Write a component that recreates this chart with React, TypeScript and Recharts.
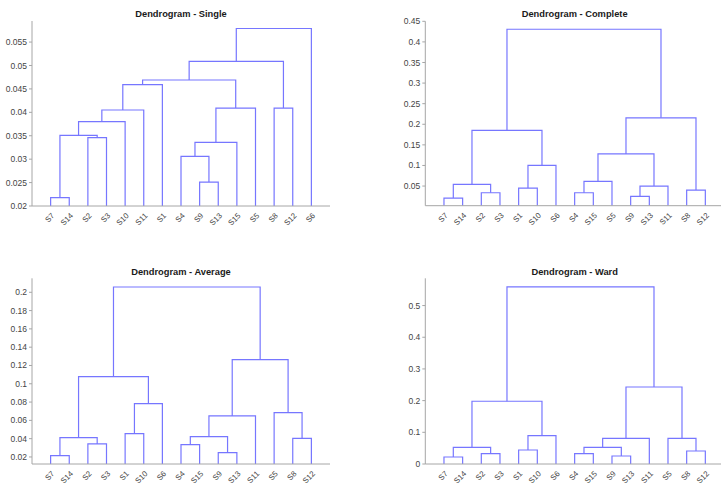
import { LineChart, Line, XAxis, YAxis } from 'recharts';

type Node = string | number;
type Link = [Node, Node, number];

// leaf positions on the x axis (1..15)
const leafTicks = [1, 2, 3, 4, 5, 6, 7, 8, 9, 10, 11, 12, 13, 14, 15];

// Single linkage
const singleLeaves = ['S7', 'S14', 'S2', 'S3', 'S10', 'S11', 'S1', 'S4', 'S9', 'S13', 'S15', 'S5', 'S8', 'S12', 'S6'];
const singleLinks: Link[] = [
  ['S7', 'S14', 0.0218],
  ['S2', 'S3', 0.0346],
  [0, 1, 0.0351],
  [2, 'S10', 0.038],
  [3, 'S11', 0.0405],
  [4, 'S1', 0.0459],
  ['S9', 'S13', 0.0251],
  ['S4', 6, 0.0306],
  [7, 'S15', 0.0336],
  [8, 'S5', 0.0409],
  [5, 9, 0.0469],
  ['S8', 'S12', 0.0409],
  [10, 11, 0.0509],
  [12, 'S6', 0.0579],
];
const singleTicks = [0.02, 0.025, 0.03, 0.035, 0.04, 0.045, 0.05, 0.055];

// Complete linkage
const completeLeaves = ['S7', 'S14', 'S2', 'S3', 'S1', 'S10', 'S6', 'S4', 'S15', 'S5', 'S9', 'S13', 'S11', 'S8', 'S12'];
const completeLinks: Link[] = [
  ['S7', 'S14', 0.0209],
  ['S2', 'S3', 0.0338],
  [0, 1, 0.054],
  ['S1', 'S10', 0.0452],
  [3, 'S6', 0.1001],
  [2, 4, 0.185],
  ['S4', 'S15', 0.0338],
  [6, 'S5', 0.0613],
  ['S9', 'S13', 0.025],
  [8, 'S11', 0.05],
  [7, 9, 0.128],
  ['S8', 'S12', 0.0403],
  [10, 11, 0.2157],
  [5, 12, 0.4307],
];
const completeTicks = [0.05, 0.1, 0.15, 0.2, 0.25, 0.3, 0.35, 0.4, 0.45];

// Average linkage
const averageLeaves = ['S7', 'S14', 'S2', 'S3', 'S1', 'S10', 'S6', 'S4', 'S15', 'S9', 'S13', 'S11', 'S5', 'S8', 'S12'];
const averageLinks: Link[] = [
  ['S7', 'S14', 0.0215],
  ['S2', 'S3', 0.0342],
  [0, 1, 0.0411],
  ['S1', 'S10', 0.0455],
  [3, 'S6', 0.0783],
  [2, 4, 0.1078],
  ['S4', 'S15', 0.0335],
  ['S9', 'S13', 0.0247],
  [6, 7, 0.0422],
  [8, 'S11', 0.0648],
  ['S8', 'S12', 0.0404],
  ['S5', 10, 0.0685],
  [9, 11, 0.1264],
  [5, 12, 0.2058],
];
const averageTicks = [0.02, 0.04, 0.06, 0.08, 0.1, 0.12, 0.14, 0.16, 0.18, 0.2];

// Ward linkage
const wardLeaves = ['S7', 'S14', 'S2', 'S3', 'S1', 'S10', 'S6', 'S4', 'S15', 'S9', 'S13', 'S11', 'S5', 'S8', 'S12'];
const wardLinks: Link[] = [
  ['S7', 'S14', 0.0221],
  ['S2', 'S3', 0.0326],
  [0, 1, 0.0526],
  ['S1', 'S10', 0.0442],
  [3, 'S6', 0.0895],
  [2, 4, 0.198],
  ['S4', 'S15', 0.0326],
  ['S9', 'S13', 0.0253],
  [6, 7, 0.0526],
  [8, 'S11', 0.081],
  ['S8', 'S12', 0.041],
  ['S5', 10, 0.081],
  [9, 11, 0.243],
  [5, 12, 0.559],
];
const wardTicks = [0, 0.1, 0.2, 0.3, 0.4, 0.5];

const LINK_COLOR = '#7676ff';
const AXIS_COLOR = '#a6a6a6';
const TEXT_COLOR = '#444';

// turn merges into U-shaped segments, leaves start at the axis floor
function buildSegments(leaves: string[], links: Link[], floor: number) {
  const pos: { x: number; y: number }[] = [];
  const at = (n: Node) =>
    typeof n === 'number' ? pos[n] : { x: leaves.indexOf(n) + 1, y: floor };
  return links.map(([a, b, h], i) => {
    const l = at(a);
    const r = at(b);
    pos[i] = { x: (l.x + r.x) / 2, y: h };
    return [
      { x: l.x, y: l.y },
      { x: l.x, y: h },
      { x: r.x, y: h },
      { x: r.x, y: r.y },
    ];
  });
}

interface PanelProps {
  title: string;
  leaves: string[];
  links: Link[];
  domain: [number, number];
  ticks: number[];
  left: number;
  top: number;
  width: number;
  height: number;
  titleY: number;
  plotLeft: number;
  plotTop: number;
  plotRight: number;
  plotBottom: number;
}

function Dendrogram({
  title, leaves, links, domain, ticks, left, top, width, height, titleY,
  plotLeft, plotTop, plotRight, plotBottom,
}: PanelProps) {
  const segments = buildSegments(leaves, links, domain[0]);
  const xAxisHeight = 20;
  const margin = {
    top: plotTop,
    left: 0,
    right: width - plotRight,
    bottom: height - plotBottom - xAxisHeight,
  };

  const LeafTick = (props: any) => {
    const { x, y, payload } = props;
    const tx = x + 2.5;
    const ty = y + 2.5;
    return (
      <text
        x={tx}
        y={ty}
        transform={`rotate(-45 ${tx} ${ty})`}
        textAnchor="end"
        dominantBaseline="central"
        fontSize={7.8}
        fill={TEXT_COLOR}
      >
        {leaves[payload.value - 1]}
      </text>
    );
  };

  return (
    <div style={{ position: 'absolute', left, top, width, height }}>
      <LineChart width={width} height={height} margin={margin}>
        <XAxis
          type="number"
          dataKey="x"
          domain={[0, 16]}
          ticks={leafTicks}
          interval={0}
          allowDataOverflow
          height={xAxisHeight}
          tickLine={false}
          tickSize={4}
          tickMargin={2}
          axisLine={{ stroke: AXIS_COLOR }}
          tick={<LeafTick />}
        />
        <YAxis
          type="number"
          dataKey="y"
          domain={domain}
          ticks={ticks}
          interval={0}
          allowDataOverflow
          width={plotLeft}
          tickSize={3}
          tickMargin={2}
          axisLine={{ stroke: AXIS_COLOR }}
          tickLine={{ stroke: AXIS_COLOR }}
          tick={{ fill: TEXT_COLOR, fontSize: 8.5 }}
        />
        {segments.map((seg, i) => (
          <Line
            key={i}
            data={seg}
            dataKey="y"
            type="linear"
            stroke={LINK_COLOR}
            strokeWidth={1.2}
            dot={false}
            activeDot={false}
            isAnimationActive={false}
          />
        ))}
      </LineChart>
      <div
        style={{
          position: 'absolute',
          left: plotLeft,
          width: plotRight - plotLeft,
          top: titleY - 6,
          height: 12,
          lineHeight: '12px',
          textAlign: 'center',
          fontWeight: 'bold',
          fontSize: 9.3,
          color: '#1a1a1a',
          whiteSpace: 'nowrap',
        }}
      >
        {title}
      </div>
    </div>
  );
}

export default function App() {
  return (
    <div
      style={{
        position: 'fixed',
        left: 0,
        top: 0,
        width: 721,
        height: 485,
        overflow: 'hidden',
        background: '#fff',
        fontFamily: '"Liberation Sans", Arial, sans-serif',
      }}
    >
      <Dendrogram
        title="Dendrogram - Single"
        leaves={singleLeaves}
        links={singleLinks}
        domain={[0.02, 0.0595]}
        ticks={singleTicks}
        left={0}
        top={0}
        width={360}
        height={245}
        titleY={14}
        plotLeft={32}
        plotTop={21}
        plotRight={330}
        plotBottom={206}
      />
      <Dendrogram
        title="Dendrogram - Complete"
        leaves={completeLeaves}
        links={completeLinks}
        domain={[0.0023, 0.45]}
        ticks={completeTicks}
        left={360}
        top={0}
        width={364}
        height={245}
        titleY={14}
        plotLeft={65.3}
        plotTop={21.3}
        plotRight={364}
        plotBottom={205.7}
      />
      <Dendrogram
        title="Dendrogram - Average"
        leaves={averageLeaves}
        links={averageLinks}
        domain={[0.0123, 0.2153]}
        ticks={averageTicks}
        left={0}
        top={245}
        width={360}
        height={240}
        titleY={26.7}
        plotLeft={32}
        plotTop={33.3}
        plotRight={330}
        plotBottom={219}
      />
      <Dendrogram
        title="Dendrogram - Ward"
        leaves={wardLeaves}
        links={wardLinks}
        domain={[0, 0.586]}
        ticks={wardTicks}
        left={360}
        top={245}
        width={364}
        height={240}
        titleY={26.7}
        plotLeft={65.3}
        plotTop={33.3}
        plotRight={364}
        plotBottom={219}
      />
    </div>
  );
}
